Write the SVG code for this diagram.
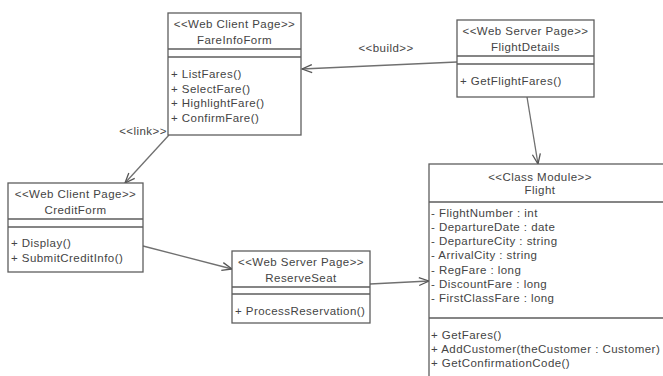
<svg xmlns="http://www.w3.org/2000/svg" width="663" height="376" viewBox="0 0 663 376">
<defs>
<style>
.box{fill:#fff;stroke:#5e5e5e;stroke-width:1.3}
.sep{stroke:#5e5e5e;stroke-width:1.3;fill:none}
.t{font-family:"Liberation Sans",Arial,sans-serif;font-size:11.5px;fill:#444;letter-spacing:0.45px}
.c{text-anchor:middle}
.edge{stroke:#707070;stroke-width:1.3;fill:none;marker-end:url(#arr)}
</style>
<marker id="arr" markerWidth="12" markerHeight="10" refX="11" refY="5" orient="auto" markerUnits="userSpaceOnUse">
<path d="M1,1 L11,5 L1,9" fill="none" stroke="#555" stroke-width="1.3"/>
</marker>
</defs>
<rect width="663" height="376" fill="#fff"/>

<g id="connectors">
<path class="edge" d="M457,62 L302,69"/>
<text class="t c" x="386" y="52">&lt;&lt;build&gt;&gt;</text>
<path class="edge" d="M169,135 L125,183"/>
<text class="t c" x="143" y="135">&lt;&lt;link&gt;&gt;</text>
<path class="edge" d="M527,97 L538,164"/>
<path class="edge" d="M143,246 L232,269"/>
<path class="edge" d="M370,284 L429,281"/>
</g>

<g id="FareInfoForm">
<rect class="box" x="168" y="13" width="133" height="122"/>
<path class="sep" d="M168,49 H301 M168,57 H301"/>
<text class="t c" x="234.5" y="28">&lt;&lt;Web Client Page&gt;&gt;</text>
<text class="t c" x="234.5" y="44">FareInfoForm</text>
<text class="t" x="171" y="78">+ ListFares()</text>
<text class="t" x="171" y="92.5">+ SelectFare()</text>
<text class="t" x="171" y="107">+ HighlightFare()</text>
<text class="t" x="171" y="121.5">+ ConfirmFare()</text>
</g>

<g id="FlightDetails">
<rect class="box" x="457" y="20" width="137" height="77"/>
<path class="sep" d="M457,56 H594 M457,64 H594"/>
<text class="t c" x="525.5" y="35">&lt;&lt;Web Server Page&gt;&gt;</text>
<text class="t c" x="525.5" y="51">FlightDetails</text>
<text class="t" x="460" y="85">+ GetFlightFares()</text>
</g>

<g id="CreditForm">
<rect class="box" x="8" y="183" width="135" height="89"/>
<path class="sep" d="M8,219 H143 M8,227 H143"/>
<text class="t c" x="75.5" y="198">&lt;&lt;Web Client Page&gt;&gt;</text>
<text class="t c" x="75.5" y="214">CreditForm</text>
<text class="t" x="11" y="247">+ Display()</text>
<text class="t" x="11" y="262">+ SubmitCreditInfo()</text>
</g>

<g id="ReserveSeat">
<rect class="box" x="232" y="251" width="138" height="72"/>
<path class="sep" d="M232,287 H370 M232,294 H370"/>
<text class="t c" x="301" y="266">&lt;&lt;Web Server Page&gt;&gt;</text>
<text class="t c" x="301" y="282">ReserveSeat</text>
<text class="t" x="235" y="315">+ ProcessReservation()</text>
</g>

<g id="Flight">
<rect class="box" x="429" y="164" width="260" height="230"/>
<path class="sep" d="M429,202 H663 M429,318 H663"/>
<text class="t c" x="540" y="181">&lt;&lt;Class Module&gt;&gt;</text>
<text class="t c" x="540" y="194">Flight</text>
<text class="t" x="431" y="217">- FlightNumber : int</text>
<text class="t" x="431" y="231">- DepartureDate : date</text>
<text class="t" x="431" y="245">- DepartureCity : string</text>
<text class="t" x="431" y="259">- ArrivalCity : string</text>
<text class="t" x="431" y="274">- RegFare : long</text>
<text class="t" x="431" y="288">- DiscountFare : long</text>
<text class="t" x="431" y="302">- FirstClassFare : long</text>
<text class="t" x="431" y="339">+ GetFares()</text>
<text class="t" x="431" y="353">+ AddCustomer(theCustomer : Customer)</text>
<text class="t" x="431" y="367">+ GetConfirmationCode()</text>
</g>
</svg>
